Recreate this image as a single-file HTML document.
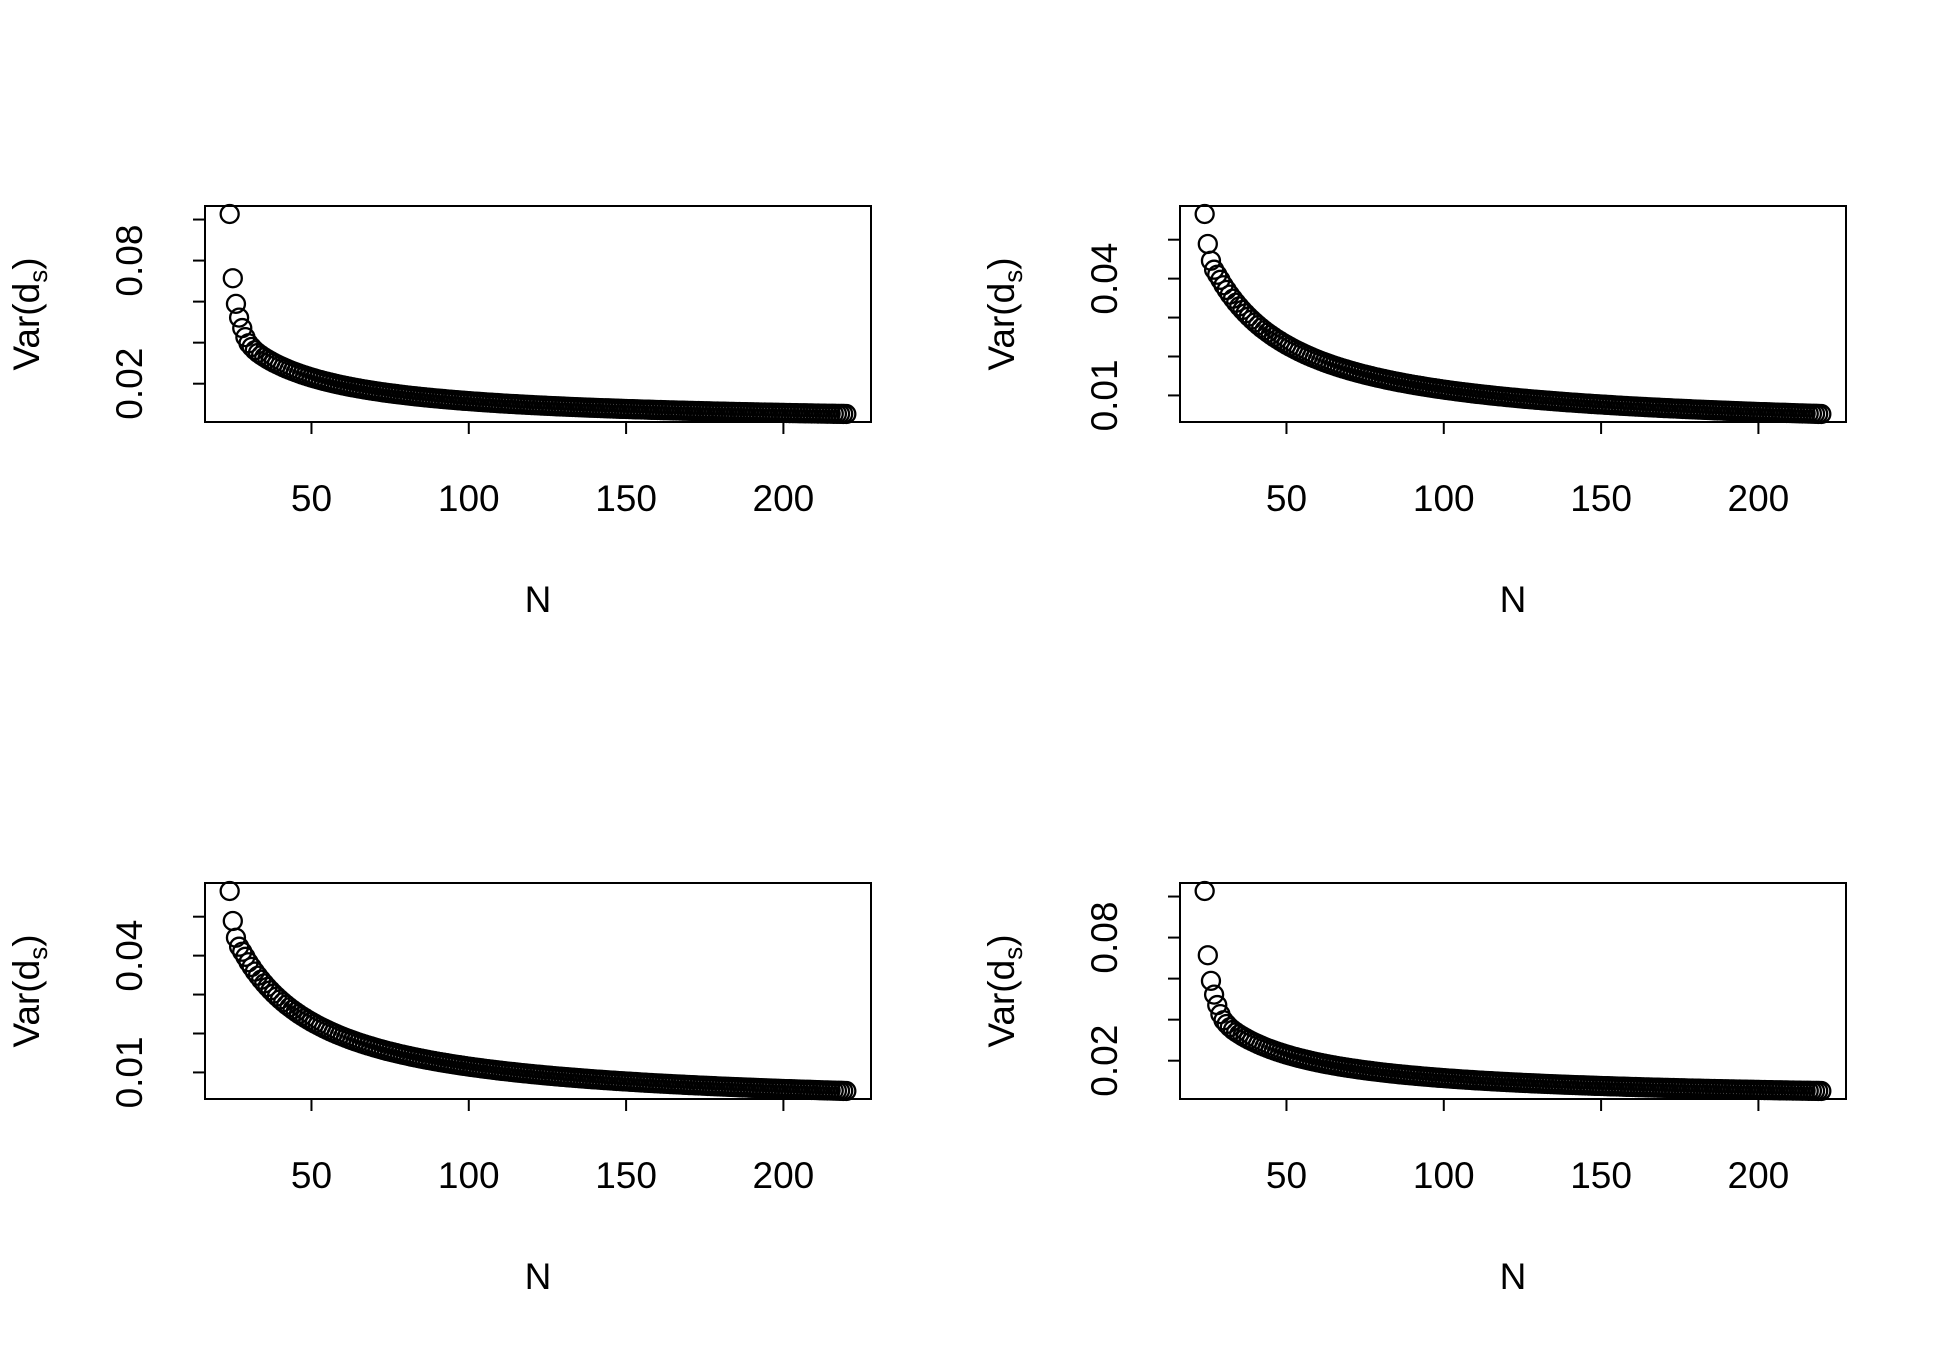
<!DOCTYPE html>
<html><head><meta charset="utf-8"><style>
html,body{margin:0;padding:0;background:#fff;}
svg{display:block;font-family:"Liberation Sans",Arial,sans-serif;}
</style></head><body>
<svg id="chart" width="1950" height="1350" viewBox="0 0 1950 1350"></svg>
<script>
const sampleN = [24,25,26,27,28,29,30,31,32,33,34,35,36,37,38,39,40,41,42,43,44,45,46,47,48,49,50,
51,52,53,54,55,56,57,58,59,60,61,62,63,64,65,66,67,68,69,70,71,72,73,74,75,76,77,78,79,80,
81,82,83,84,85,86,87,88,89,90,91,92,93,94,95,96,97,98,99,100,
101,102,103,104,105,106,107,108,109,110,111,112,113,114,115,116,117,118,119,120,
121,122,123,124,125,126,127,128,129,130,131,132,133,134,135,136,137,138,139,140,
141,142,143,144,145,146,147,148,149,150,151,152,153,154,155,156,157,158,159,160,
161,162,163,164,165,166,167,168,169,170,171,172,173,174,175,176,177,178,179,180,
181,182,183,184,185,186,187,188,189,190,191,192,193,194,195,196,197,198,199,200,
201,202,203,204,205,206,207,208,209,210,211,212,213,214,215,216,217,218,219,220];
const tailVar = [
.02255,.02212,.02170,.02130,.02091,.02054,.02018,.01983,.01949,.01917,.01885,.01855,.01825,.01797,.01769,.01742,.01716,.01691,.01667,.01643,.01620,.01597,.01575,.01554,.01533,.01513,.01494,.01474,.01456,.01438,
.01420,.01402,.01386,.01369,.01353,.01337,.01322,.01307,.01292,.01278,.01264,.01250,.01237,.01223,.01211,.01198,.01186,.01173,.01162,.01150,
.01139,.01127,.01117,.01106,.01095,.01085,.01075,.01065,.01055,.01045,.01036,.01027,.01018,.01009,.01000,.00991,.00983,.00975,.00966,.00958,
.00950,.00943,.00935,.00927,.00920,.00913,.00906,.00898,.00891,.00885,.00878,.00871,.00865,.00858,.00852,.00846,.00839,.00833,.00827,.00821,
.00816,.00810,.00804,.00799,.00793,.00788,.00782,.00777,.00772,.00767,.00762,.00757,.00752,.00747,.00742,.00737,.00732,.00728,.00723,.00719,
.00714,.00710,.00706,.00701,.00697,.00693,.00689,.00685,.00680,.00676,.00673,.00669,.00665,.00661,.00657,.00653,.00650,.00646,.00642,.00639,
.00635,.00632,.00628,.00625,.00622,.00618,.00615,.00612,.00608,.00605,.00602,.00599,.00596,.00593,.00590,.00587,.00584,.00581,.00578,.00575,
.00572,.00569,.00567,.00564,.00561,.00558,.00556,.00553,.00550,.00548,.00545,.00542,.00540,.00537,.00535,.00532,.00530,.00528,.00525,.00523];
const headVarA = [.1027,.0714,.0589,.0522,.0471,.0427,.0397,.0379,.0363,.0350,.0339,.0329,.03194,.03108,.03026,.02949,.02875,.02805,.02738,.02674,.02614,.02556,.02500,.02447,.02396,.02347,.02300];
const headVarB = [.0566,.0489,.0446,.0423,.0410,.0397,.0383,.0371,.0359,.03485,.03382,.03286,.03194,.03108,.03026,.02949,.02875,.02805,.02738,.02674,.02614,.02556,.02500,.02447,.02396,.02347,.02300];
const varA = headVarA.concat(tailVar);
const varB = headVarB.concat(tailVar);
const xTicks = [50,100,150,200];
const yTicksA = [0.02,0.04,0.06,0.08,0.10];
const yLabelsA = ["0.02","","","0.08",""];
const yTicksB = [0.01,0.02,0.03,0.04,0.05];
const yLabelsB = ["0.01","","","0.04",""];

const NS="http://www.w3.org/2000/svg";
const svg=document.getElementById('chart');
function mk(tag,attrs,parent){const e=document.createElementNS(NS,tag);for(const k in attrs)e.setAttribute(k,attrs[k]);parent.appendChild(e);return e;}

const panels=[
 {id:'top-left',dx:0,dy:0,vals:varA,ticks:yTicksA,labels:yLabelsA},
 {id:'top-right',dx:975,dy:0,vals:varB,ticks:yTicksB,labels:yLabelsB},
 {id:'bottom-left',dx:0,dy:677,vals:varB,ticks:yTicksB,labels:yLabelsB},
 {id:'bottom-right',dx:975,dy:677,vals:varA,ticks:yTicksA,labels:yLabelsA}
];

panels.forEach(p=>{
 const g=mk('g',{},svg);
 
 
 const L=205+p.dx,R=871+p.dx,T=206+p.dy,B=422+p.dy;
 const xmin=Math.min(...sampleN),xmax=Math.max(...sampleN);
 const xpad=(xmax-xmin)*0.04;
 const ymin=Math.min(...p.vals),ymax=Math.max(...p.vals);
 const ypad=(ymax-ymin)*0.04;
 const X=v=>L+(v-(xmin-xpad))/((xmax-xmin)+2*xpad)*(R-L);
 const Y=v=>B-(v-(ymin-ypad))/((ymax-ymin)+2*ypad)*(B-T);
 const pts=mk('g',{fill:'none',stroke:'#000','stroke-width':2.3},g);
 
 
 sampleN.forEach((n,i)=>{
  const c=mk('circle',{cx:X(n),cy:Y(p.vals[i]),r:9},pts);
  
  
 });
 const box=mk('rect',{x:L,y:T,width:R-L,height:B-T,fill:'none',stroke:'#000','stroke-width':2},g);
 
 
 const xa=mk('g',{},g);
 
 
 mk('line',{x1:X(xTicks[0]),x2:X(xTicks[xTicks.length-1]),y1:B,y2:B,stroke:'#000','stroke-width':2},xa);
 xTicks.forEach(t=>{
  mk('line',{x1:X(t),x2:X(t),y1:B,y2:B+12,stroke:'#000','stroke-width':2},xa);
  const tx=mk('text',{x:X(t),y:B+89,'text-anchor':'middle','font-size':37},xa);
  tx.textContent=t;
  
  
 });
 const xt=mk('text',{x:(L+R)/2,y:B+190,'text-anchor':'middle','font-size':37},g);
 xt.textContent='N';
 
 
 const ya=mk('g',{},g);
 
 
 mk('line',{x1:L,x2:L,y1:Y(p.ticks[0]),y2:Y(p.ticks[p.ticks.length-1]),stroke:'#000','stroke-width':2},ya);
 p.ticks.forEach((t,i)=>{
  const y=Y(t);
  mk('line',{x1:L-12,x2:L,y1:y,y2:y,stroke:'#000','stroke-width':2},ya);
  if(p.labels[i]){
   const tl=mk('text',{x:0,y:0,'text-anchor':'middle','font-size':37,transform:`translate(${L-63},${y}) rotate(-90)`},ya);
   tl.textContent=p.labels[i];
   
   
  }
 });
 const yt=mk('text',{x:0,y:0,'text-anchor':'middle','font-size':37,transform:`translate(${L-166},${(T+B)/2}) rotate(-90)`},g);
 yt.innerHTML='Var(d<tspan font-size="26" dy="8">s</tspan><tspan dy="-8">)</tspan>';
 
 
});
</script>
</body></html>
